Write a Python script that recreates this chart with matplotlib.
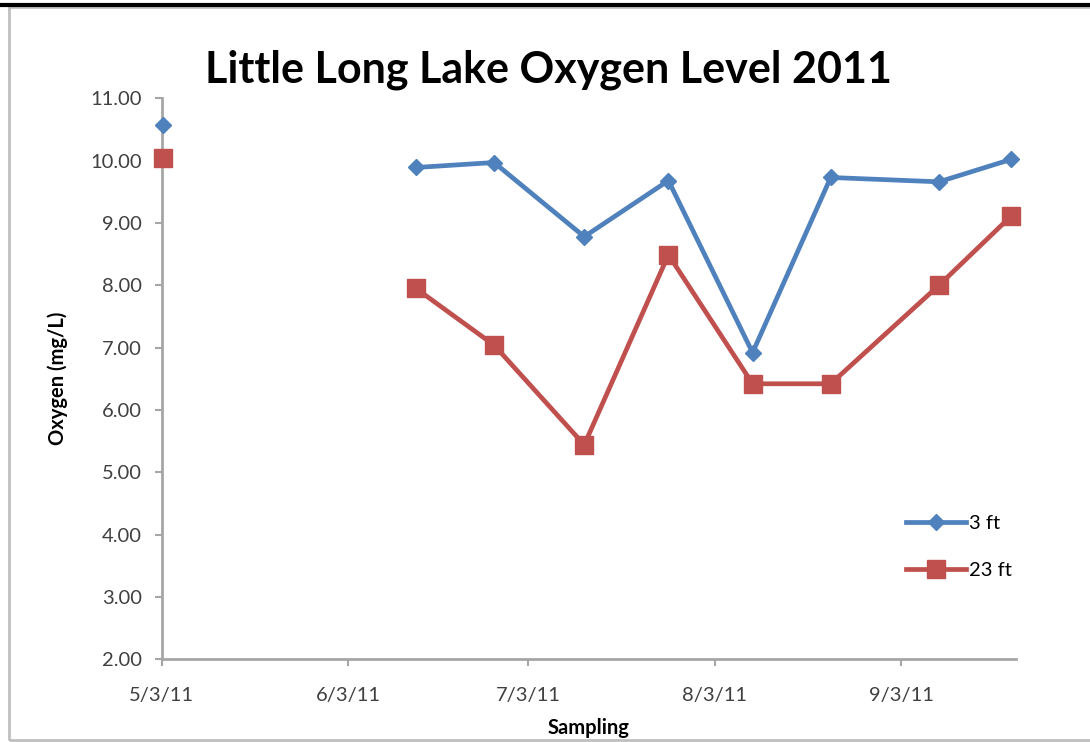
import matplotlib.pyplot as plt
import matplotlib.dates as mdates
from matplotlib.lines import Line2D
from matplotlib.patches import Rectangle
import numpy as np
import pandas as pd

plt.rcParams['font.family'] = ['Lato', 'DejaVu Sans']

# sampling dates (no readings were taken between early May and mid June)
dates = pd.to_datetime(['2011-05-03', '2011-05-24', '2011-06-14', '2011-06-27',
                        '2011-07-12', '2011-07-26', '2011-08-09', '2011-08-22',
                        '2011-09-09', '2011-09-21'])
oxygen_3ft = [10.57, np.nan, 9.89, 9.97, 8.78, 9.68, 6.92, 9.73, 9.66, 10.02]
oxygen_23ft = [10.04, np.nan, 7.95, 7.04, 5.44, 8.49, 6.42, 6.42, 8.00, 9.11]

tick_dates = pd.to_datetime(['2011-05-03', '2011-06-03', '2011-07-03',
                             '2011-08-03', '2011-09-03'])
tick_labels = ['5/3/11', '6/3/11', '7/3/11', '8/3/11', '9/3/11']

blue = '#4F81BD'
red = '#C0504D'
axis_grey = '#A6A6A6'

fig = plt.figure(figsize=(10.9, 7.42), dpi=100)
ax = fig.add_axes([0.1483, 0.1115, 0.7837, 0.756])

# Excel-style date axis: points sit a little past the day's tick
x = mdates.date2num(dates) + 0.3

ax.plot(x, oxygen_3ft, color=blue, lw=3.4, marker='D', ms=8, label='3 ft',
        clip_on=False, zorder=3)
ax.plot(x, oxygen_23ft, color=red, lw=3.4, marker='s', ms=13, label='23 ft',
        clip_on=False, zorder=3)

ax.set_xlim(mdates.date2num(pd.Timestamp('2011-05-03')),
            mdates.date2num(pd.Timestamp('2011-09-22')) + 0.1)
ax.set_ylim(2, 11)
ax.set_xticks(mdates.date2num(tick_dates))
ax.set_xticklabels(tick_labels)
ax.set_yticks(np.arange(2, 11.5, 1))
ax.set_yticklabels([f'{v:.2f}' for v in np.arange(2, 11.5, 1)])

for side in ['top', 'right']:
    ax.spines[side].set_visible(False)
for side in ['left', 'bottom']:
    ax.spines[side].set_color(axis_grey)
    ax.spines[side].set_linewidth(2)
ax.tick_params(axis='both', colors=axis_grey, length=5, width=1.5,
               labelcolor='#404040', labelsize=14.5)
ax.tick_params(axis='x', pad=15)
ax.tick_params(axis='y', pad=9)

fig.text(0.503, 1 - 83 / 742, 'Little Long Lake Oxygen Level 2011',
         fontsize=31, fontweight='bold', ha='center', va='baseline')
ax.set_ylabel('Oxygen (mg/L)', fontsize=14.5, fontweight='bold', labelpad=16)
ax.set_xlabel('Sampling', fontsize=14.5, fontweight='bold', labelpad=10)

handles = [Line2D([], [], color=blue, lw=3.4, marker='D', ms=8),
           Line2D([], [], color=red, lw=3.4, marker='s', ms=13)]
ax.legend(handles, ['3 ft', '23 ft'], loc='center left',
          bbox_to_anchor=(0.871, 0.2), frameon=False, fontsize=14.5,
          borderpad=0, borderaxespad=0,
          handlelength=3.0, handletextpad=0.15, labelspacing=1.5)

# chart frame
fig.add_artist(Rectangle((9 / 1090, 2 / 742), 1.0, 733 / 742,
                         transform=fig.transFigure, fill=False,
                         edgecolor='#BFBFBF', lw=2))
fig.add_artist(Line2D([0, 1], [1 - 5 / 742, 1 - 5 / 742],
                      transform=fig.transFigure, color='black', lw=3))

fig.savefig('out.png', dpi=100)
